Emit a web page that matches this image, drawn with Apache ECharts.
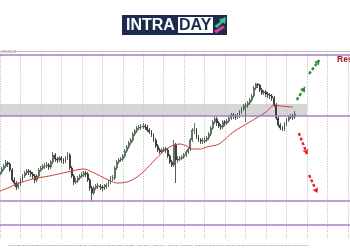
<!DOCTYPE html>
<html>
<head>
<meta charset="utf-8">
<script src="https://cdn.jsdelivr.net/npm/echarts@6/dist/echarts.min.js"></script>
<style>html,body{margin:0;padding:0;background:#fff}#c{width:350px;height:250px}</style>
</head>
<body>
<div id="c"></div>
<script>
// Candles: [open, close, low, high]
const candles = [
[1.2052,1.2058,1.2046,1.2062],[1.2058,1.2064,1.2054,1.2068],[1.2064,1.2070,1.2060,1.2074],[1.2070,1.2076,1.2066,1.2082],
[1.2076,1.2074,1.2068,1.2080],[1.2074,1.2062,1.2058,1.2078],[1.2062,1.2042,1.2038,1.2066],[1.2042,1.2036,1.2030,1.2048],
[1.2036,1.2028,1.2022,1.2040],[1.2028,1.2034,1.2024,1.2038],[1.2034,1.2042,1.2030,1.2046],[1.2042,1.2050,1.2038,1.2054],
[1.2050,1.2056,1.2046,1.2060],[1.2056,1.2060,1.2052,1.2064],[1.2060,1.2058,1.2052,1.2064],[1.2058,1.2054,1.2048,1.2062],
[1.2054,1.2050,1.2044,1.2058],[1.2050,1.2042,1.2036,1.2054],[1.2042,1.2050,1.2038,1.2054],[1.2050,1.2062,1.2046,1.2066],
[1.2062,1.2066,1.2058,1.2070],[1.2066,1.2070,1.2062,1.2074],[1.2070,1.2070,1.2064,1.2076],[1.2070,1.2072,1.2066,1.2078],
[1.2072,1.2068,1.2062,1.2076],[1.2068,1.2078,1.2064,1.2082],[1.2078,1.2092,1.2074,1.2098],[1.2092,1.2084,1.2078,1.2096],
[1.2084,1.2082,1.2076,1.2088],[1.2082,1.2086,1.2078,1.2090],[1.2086,1.2082,1.2076,1.2090],[1.2082,1.2080,1.2074,1.2086],
[1.2080,1.2086,1.2076,1.2090],[1.2086,1.2092,1.2082,1.2098],[1.2092,1.2066,1.2062,1.2096],[1.2066,1.2050,1.2046,1.2070],
[1.2050,1.2038,1.2032,1.2054],[1.2038,1.2040,1.2034,1.2046],[1.2040,1.2046,1.2036,1.2050],[1.2046,1.2050,1.2042,1.2054],
[1.2050,1.2052,1.2046,1.2058],[1.2052,1.2056,1.2048,1.2060],[1.2056,1.2054,1.2048,1.2060],[1.2054,1.2042,1.2038,1.2058],
[1.2042,1.2026,1.2020,1.2046],[1.2026,1.2016,1.2000,1.2030],[1.2016,1.2026,1.2012,1.2030],[1.2026,1.2030,1.2022,1.2034],
[1.2030,1.2030,1.2024,1.2036],[1.2030,1.2028,1.2022,1.2034],[1.2028,1.2026,1.2020,1.2032],[1.2026,1.2028,1.2022,1.2034],
[1.2028,1.2032,1.2024,1.2036],[1.2032,1.2038,1.2028,1.2042],[1.2038,1.2046,1.2034,1.2050],[1.2046,1.2046,1.2040,1.2052],
[1.2046,1.2066,1.2042,1.2070],[1.2066,1.2078,1.2062,1.2082],[1.2078,1.2082,1.2074,1.2086],[1.2082,1.2084,1.2078,1.2088],
[1.2084,1.2090,1.2080,1.2094],[1.2090,1.2100,1.2086,1.2104],[1.2100,1.2108,1.2096,1.2112],[1.2108,1.2116,1.2104,1.2120],
[1.2116,1.2122,1.2112,1.2126],[1.2122,1.2134,1.2118,1.2138],[1.2134,1.2140,1.2130,1.2144],[1.2140,1.2146,1.2136,1.2150],
[1.2146,1.2148,1.2142,1.2152],[1.2148,1.2148,1.2142,1.2154],[1.2148,1.2150,1.2144,1.2156],[1.2150,1.2148,1.2142,1.2154],
[1.2148,1.2142,1.2138,1.2152],[1.2142,1.2138,1.2134,1.2146],[1.2138,1.2132,1.2128,1.2142],[1.2132,1.2122,1.2118,1.2136],
[1.2122,1.2110,1.2106,1.2126],[1.2110,1.2102,1.2098,1.2114],[1.2102,1.2098,1.2094,1.2106],[1.2098,1.2102,1.2094,1.2106],
[1.2102,1.2104,1.2098,1.2108],[1.2104,1.2102,1.2096,1.2108],[1.2102,1.2090,1.2086,1.2106],[1.2090,1.2078,1.2074,1.2094],
[1.2078,1.2072,1.2068,1.2082],[1.2072,1.2112,1.2068,1.2122],[1.2112,1.2082,1.2036,1.2116],[1.2082,1.2084,1.2076,1.2090],
[1.2084,1.2086,1.2080,1.2090],[1.2086,1.2088,1.2082,1.2092],[1.2088,1.2092,1.2084,1.2096],[1.2092,1.2098,1.2088,1.2102],
[1.2098,1.2104,1.2094,1.2108],[1.2104,1.2122,1.2100,1.2126],[1.2122,1.2142,1.2118,1.2146],[1.2142,1.2142,1.2134,1.2156],
[1.2142,1.2128,1.2124,1.2146],[1.2128,1.2122,1.2118,1.2132],[1.2122,1.2120,1.2114,1.2126],[1.2120,1.2120,1.2114,1.2126],
[1.2120,1.2122,1.2116,1.2128],[1.2122,1.2126,1.2118,1.2130],[1.2126,1.2134,1.2122,1.2138],[1.2134,1.2146,1.2130,1.2150],
[1.2146,1.2158,1.2142,1.2162],[1.2158,1.2164,1.2154,1.2170],[1.2164,1.2156,1.2150,1.2168],[1.2156,1.2150,1.2146,1.2160],
[1.2150,1.2148,1.2142,1.2154],[1.2148,1.2158,1.2144,1.2162],[1.2158,1.2156,1.2150,1.2162],[1.2156,1.2160,1.2152,1.2164],
[1.2160,1.2166,1.2156,1.2170],[1.2166,1.2172,1.2162,1.2176],[1.2172,1.2170,1.2164,1.2176],[1.2170,1.2168,1.2162,1.2174],
[1.2168,1.2170,1.2164,1.2176],[1.2170,1.2178,1.2166,1.2182],[1.2178,1.2184,1.2174,1.2188],[1.2184,1.2190,1.2180,1.2194],
[1.2190,1.2192,1.2158,1.2196],[1.2192,1.2196,1.2186,1.2200],[1.2196,1.2202,1.2192,1.2206],[1.2202,1.2210,1.2198,1.2214],
[1.2210,1.2226,1.2206,1.2230],[1.2226,1.2234,1.2222,1.2236],[1.2234,1.2232,1.2226,1.2236],[1.2232,1.2222,1.2218,1.2234],
[1.2222,1.2216,1.2212,1.2226],[1.2216,1.2218,1.2212,1.2222],[1.2218,1.2214,1.2208,1.2222],[1.2214,1.2212,1.2206,1.2218],
[1.2212,1.2210,1.2204,1.2216],[1.2210,1.2206,1.2200,1.2214],[1.2206,1.2192,1.2188,1.2210],[1.2192,1.2166,1.2162,1.2196],
[1.2166,1.2152,1.2148,1.2170],[1.2152,1.2146,1.2142,1.2156],[1.2146,1.2144,1.2140,1.2150],[1.2144,1.2154,1.2140,1.2158],
[1.2154,1.2162,1.2150,1.2166],[1.2162,1.2168,1.2158,1.2172],[1.2168,1.2170,1.2164,1.2174],[1.2170,1.2168,1.2162,1.2174],
[1.2168,1.2174,1.2164,1.2180]
];
// Moving average: [candle index, value]
const maPoints = [
[0,1.2020],[5,1.2028],[8,1.2034],[16,1.2044],[24,1.2050],[33,1.2058],[41,1.2064],[45,1.2058],[49,1.2050],
[54,1.2040],[57,1.2036],[62,1.2038],[67,1.2048],[72,1.2066],[77,1.2088],[82,1.2106],[85,1.2112],[88,1.2114],
[91,1.2110],[94,1.2104],[98,1.2104],[101,1.2108],[107,1.2114],[114,1.2138],[122,1.2158],[130,1.2178],
[134,1.2192],[137,1.2190],[143,1.2188]
];
const frameTop = 1.2300;
const levels = [1.2292, 1.2170, 1.2000, 1.1952];
const zoneTop = 1.2194, zoneBottom = 1.2170, zoneEnd = 150;
const upArrows = [[[145,1.2202],[149,1.2228]],[[151,1.2254],[156,1.2282]]];
const downArrows = [[[146,1.2136],[150,1.2094]],[[151,1.2052],[155,1.2016]]];
const tickLabels = ['21 Dec 2020','22 Dec 12:00','23 Dec 16:00','24 Dec 20:00','28 Dec 00:00','29 Dec 04:00','30 Dec 08:00',
'31 Dec 12:00','4 Jan 2021','5 Jan 00:00','6 Jan 04:00','7 Jan 08:00','8 Jan 12:00','11 Jan 16:00','12 Jan 20:00',
'14 Jan 00:00','15 Jan 04:00','18 Jan 08:00','19 Jan 12:00','20 Jan 16:00','21 Jan 20:00'];
const slotCount = 172;
const slots = []; for (let i = 0; i < slotCount; i++) slots.push(String(i));

const chart = echarts.init(document.getElementById('c'), null, {renderer:'canvas'});
const arrowLine = (pairs, color) => pairs.map(p => [
  {coord:p[0], lineStyle:{color:color, width:2.4, type:[3,2]}, symbol:'none'},
  {coord:p[1], symbol:'arrow', symbolSize:5}
]);
const hLine = (v, color, w) => [
  {coord:[0, v], symbol:'none', lineStyle:{color:color, width:w, type:'solid'}},
  {coord:[slotCount-1, v], symbol:'none'}
];
chart.setOption({
  animation:false,
  backgroundColor:'#ffffff',
  grid:{left:0, right:0, top:51, bottom:11},
  xAxis:{
    type:'category', data:slots, boundaryGap:false,
    axisLine:{show:false}, axisTick:{show:false},
    splitLine:{show:true, interval:9, lineStyle:{color:'#b9b9b9', width:1, type:[1,1.5]}},
    axisLabel:{
      interval:(i)=> i>=4 && i<=144 && (i-4)%7===0,
      formatter:(v,i)=> tickLabels[(i-4)/7] || '',
      fontSize:2.4, color:'#666', align:'left', margin:5, fontFamily:'Liberation Sans'
    }
  },
  yAxis:{type:'value', min:1.1924, max:1.2300, show:false, splitLine:{show:false}, scale:true},
  series:[
    {
      type:'candlestick', data:candles, barWidth:1.4, z:3,
      itemStyle:{color:'#e8efe8', color0:'#2b372b', borderColor:'#3b553b', borderColor0:'#2b2b2b', borderWidth:0.8}
    },
    {
      type:'line', data:maPoints, smooth:0.3, showSymbol:false, z:4,
      lineStyle:{color:'#c8403a', width:1},
      markArea:{silent:true, itemStyle:{color:'rgba(200,200,200,0.75)'},
        data:[[{coord:[0,zoneTop]},{coord:[zoneEnd,zoneBottom]}]]},
      markLine:{silent:true, label:{show:false}, symbol:['none','arrow'], symbolSize:5,
        data:[
          hLine(frameTop,'#bdbdbd',1),
          ...levels.map(v=>hLine(v,'#a57fc8',1.5)),
          ...arrowLine(upArrows,'#2e8b3a'), ...arrowLine(downArrows,'#e0262a')
        ]}
    }
  ],
  graphic:[
    {type:'rect', shape:{x:122,y:15,width:105,height:20}, style:{fill:'#1c2b4e'}},
    {type:'text', style:{x:126,y:25.5,text:'INTRA',fill:'#ffffff',font:'bold 16px "Liberation Sans"',verticalAlign:'middle'}},
    {type:'rect', shape:{x:178,y:17,width:35,height:16}, style:{fill:'#ffffff'}},
    {type:'text', style:{x:179,y:25.5,text:'DAY',fill:'#1c2b4e',font:'bold 16px "Liberation Sans"',verticalAlign:'middle'}},
    {type:'polygon', shape:{points:[[214.5,26],[220.5,21.5],[219,19.5],[226,17],[225,24],[223,22.5],[217,28]]}, style:{fill:'#3fc28c'}},
    {type:'polygon', shape:{points:[[214,31],[223,25.5],[225,27.5],[216,33.5]]}, style:{fill:'#e23c9c'}},
    {type:'text', style:{x:1,y:52.5,text:'EURUSD,H4',fill:'#777',font:'2.6px "Liberation Sans"',verticalAlign:'middle'}},
    {type:'text', style:{x:337,y:60,text:'Resistance',fill:'#9a1010',font:'bold 8.5px "Liberation Sans"',verticalAlign:'middle'}}
  ]
});
</script>
</body>
</html>
